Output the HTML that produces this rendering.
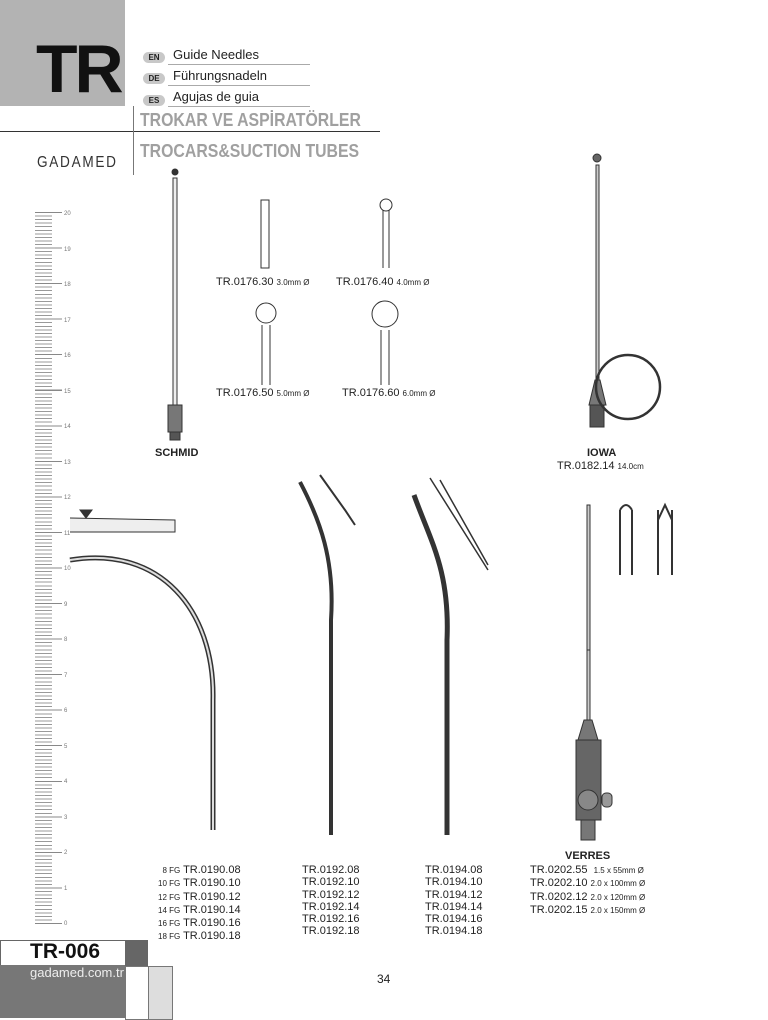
<!DOCTYPE html>
<html><head><meta charset="utf-8"><style>
body{margin:0;width:768px;height:1018px;background:#fff;position:relative;overflow:hidden;font-family:"Liberation Sans",Arial,sans-serif;color:#222}
.a{position:absolute;white-space:nowrap}
.badge{position:absolute;background:#c8c8c8;border-radius:6px;font-size:8px;font-weight:bold;width:22px;height:11px;line-height:11px;text-align:center}
.ln{position:absolute;font-size:13px}
.ul{position:absolute;height:1px;background:#aaa}
.code{font-size:11px;line-height:12.3px}
.code small{font-size:8px}
</style></head><body>
<div class="a" style="left:0;top:0;width:125px;height:106px;background:#b3b3b3"></div>
<div class="a" style="left:36px;top:30px;font-size:68px;font-weight:bold;letter-spacing:-3px;color:#111">TR</div>
<div class="a" style="left:0;top:131px;width:380px;height:1px;background:#333"></div>
<div class="a" style="left:133px;top:106px;width:1px;height:69px;background:#777"></div>
<div class="badge" style="left:143px;top:52px">EN</div>
<div class="badge" style="left:143px;top:73px">DE</div>
<div class="badge" style="left:143px;top:95px">ES</div>
<div class="ln a" style="left:173px;top:47px">Guide Needles</div>
<div class="ln a" style="left:173px;top:68px">Führungsnadeln</div>
<div class="ln a" style="left:173px;top:89px">Agujas de guia</div>
<div class="ul" style="left:168px;top:64px;width:142px"></div>
<div class="ul" style="left:168px;top:85px;width:142px"></div>
<div class="ul" style="left:168px;top:106px;width:142px"></div>
<div class="a" style="left:140px;top:110px;font-size:18px;font-weight:bold;color:#a0a0a0;transform:scaleX(0.88);transform-origin:0 0">TROKAR VE ASPİRATÖRLER</div>
<div class="a" style="left:140px;top:141px;font-size:18px;font-weight:bold;color:#a0a0a0;transform:scaleX(0.88);transform-origin:0 0">TROCARS&amp;SUCTION TUBES</div>
<div class="a" style="left:37px;top:154px;font-size:16px;letter-spacing:2px;color:#333;transform:scaleX(0.85);transform-origin:0 0">GADAMED</div>

<svg class="a" style="left:0;top:0" width="768" height="1018">
<g stroke="#333" fill="none">
<rect x="173" y="178" width="4" height="227" fill="#eee"/>
<circle cx="175" cy="172" r="3" fill="#333"/>
<rect x="168" y="405" width="14" height="27" fill="#777"/>
<rect x="170" y="432" width="10" height="8" fill="#555"/>
<rect x="261" y="200" width="8" height="68"/>
<line x1="383" y1="210" x2="383" y2="268"/><line x1="389" y1="210" x2="389" y2="268"/><circle cx="386" cy="205" r="6"/>
<line x1="262" y1="325" x2="262" y2="385"/><line x1="270" y1="325" x2="270" y2="385"/><circle cx="266" cy="313" r="10"/>
<line x1="381" y1="330" x2="381" y2="385"/><line x1="389" y1="330" x2="389" y2="385"/><circle cx="385" cy="314" r="13"/>
<rect x="596" y="165" width="3" height="215" fill="#ccc"/>
<circle cx="597" cy="158" r="4" fill="#666"/>
<path d="M595 380 L589 405 L606 405 L600 380Z" fill="#777"/>
<rect x="590" y="405" width="14" height="22" fill="#555"/>
<circle cx="628" cy="387" r="32" stroke-width="2.5"/>
<path d="M70 560 C160 545 215 610 213 700 L213 830" stroke-width="5"/>
<path d="M70 560 C160 545 215 610 213 700 L213 830" stroke="#ddd" stroke-width="2"/>
<path d="M70 518 L175 520 L175 532 L70 532" fill="#eee"/>
<path d="M300 482 C320 520 335 560 331 620 L331 835" stroke-width="4"/>
<path d="M320 475 L345 510 L355 525" stroke-width="2"/>
<path d="M414 495 C430 540 450 570 447 640 L447 835" stroke-width="5"/>
<path d="M430 478 L488 570 M440 480 L488 565" stroke-width="1.5"/>
<rect x="587" y="505" width="3" height="150" fill="#ccc"/>
<rect x="587" y="650" width="3" height="70" fill="#ccc"/>
<path d="M584 720 L578 740 L598 740 L592 720Z" fill="#777"/>
<rect x="576" y="740" width="25" height="80" fill="#666"/>
<circle cx="588" cy="800" r="10" fill="#888"/>
<rect x="602" y="793" width="10" height="14" rx="4" fill="#999"/>
<rect x="581" y="820" width="14" height="20" fill="#777"/>
<path d="M620 510 L620 575 M632 510 L632 575 M620 510 Q626 500 632 510" stroke-width="2"/>
<path d="M658 510 L658 575 M672 510 L672 575 M658 520 L665 505 L672 520" stroke-width="2"/>
<path d="M80 510 L86 518 L92 510Z" fill="#333"/>
</g>
<g font-size="6" fill="#777" font-family="Liberation Sans">
<text x="64" y="215">20</text><text x="64" y="251">19</text><text x="64" y="286">18</text><text x="64" y="322">17</text><text x="64" y="357">16</text><text x="64" y="393">15</text><text x="64" y="428">14</text><text x="64" y="464">13</text><text x="64" y="499">12</text><text x="64" y="535">11</text><text x="64" y="570">10</text><text x="64" y="606">9</text><text x="64" y="641">8</text><text x="64" y="677">7</text><text x="64" y="712">6</text><text x="64" y="748">5</text><text x="64" y="783">4</text><text x="64" y="819">3</text><text x="64" y="854">2</text><text x="64" y="890">1</text><text x="64" y="925">0</text>
</g>
</svg>
<div class="a" style="left:35px;top:212px;width:17px;height:711px;background:repeating-linear-gradient(to bottom,#999 0,#999 1px,transparent 1px,transparent 3.555px)"></div>
<div class="a" style="left:35px;top:212px;width:27px;height:712px;background:repeating-linear-gradient(to bottom,#888 0,#888 1px,transparent 1px,transparent 35.55px)"></div>

<div class="a code" style="left:216px;top:276px">TR.0176.30 <small>3.0mm Ø</small></div>
<div class="a code" style="left:336px;top:276px">TR.0176.40 <small>4.0mm Ø</small></div>
<div class="a code" style="left:216px;top:387px">TR.0176.50 <small>5.0mm Ø</small></div>
<div class="a code" style="left:342px;top:387px">TR.0176.60 <small>6.0mm Ø</small></div>
<div class="a" style="left:155px;top:447px;font-size:11px;font-weight:bold">SCHMID</div>
<div class="a" style="left:587px;top:447px;font-size:11px;font-weight:bold">IOWA</div>
<div class="a code" style="left:557px;top:460px">TR.0182.14 <small>14.0cm</small></div>

<div class="a code" style="left:158px;top:864px;text-align:right"><small>8 FG</small> TR.0190.08<br><small>10 FG</small> TR.0190.10<br><small>12 FG</small> TR.0190.12<br><small>14 FG</small> TR.0190.14<br><small>16 FG</small> TR.0190.16<br><small>18 FG</small> TR.0190.18</div>
<div class="a code" style="left:302px;top:864px">TR.0192.08<br>TR.0192.10<br>TR.0192.12<br>TR.0192.14<br>TR.0192.16<br>TR.0192.18</div>
<div class="a code" style="left:425px;top:864px">TR.0194.08<br>TR.0194.10<br>TR.0194.12<br>TR.0194.14<br>TR.0194.16<br>TR.0194.18</div>
<div class="a" style="left:565px;top:850px;font-size:11px;font-weight:bold">VERRES</div>
<div class="a code" style="left:530px;top:864px">TR.0202.55 &nbsp;<small>1.5 x 55mm Ø</small><br>TR.0202.10 <small>2.0 x 100mm Ø</small><br>TR.0202.12 <small>2.0 x 120mm Ø</small><br>TR.0202.15 <small>2.0 x 150mm Ø</small></div>

<div class="a" style="left:0;top:940px;width:124px;height:24px;border:1px solid #666;background:#fff"></div>
<div class="a" style="left:30px;top:940px;font-size:21px;font-weight:bold;color:#111">TR-006</div>
<div class="a" style="left:125px;top:940px;width:23px;height:26px;background:#666"></div>
<div class="a" style="left:0;top:965px;width:125px;height:53px;background:#777"></div>
<div class="a" style="left:30px;top:965px;font-size:13px;color:#eee">gadamed.com.tr</div>
<div class="a" style="left:125px;top:966px;width:22px;height:52px;border:1px solid #777;background:#fff"></div>
<div class="a" style="left:148px;top:966px;width:23px;height:52px;border:1px solid #777;background:#ddd"></div>
<div class="a" style="left:377px;top:972px;font-size:12px">34</div>
</body></html>
